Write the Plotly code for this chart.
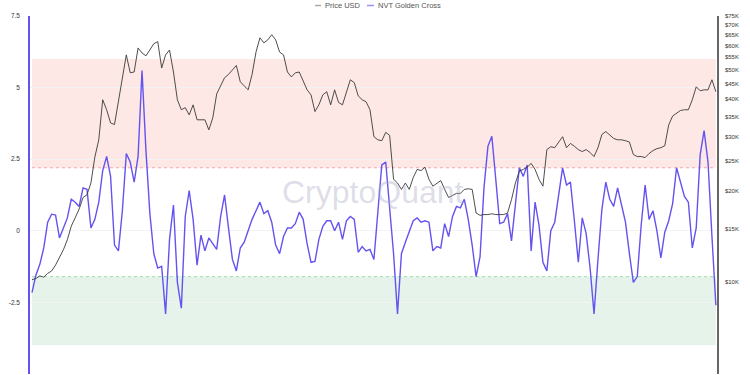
import pandas as pd
import plotly.graph_objects as go

# ---- data (weekly samples) ----
start_date = "2020-09-16"
n_weeks = 175

price_usd_k = [
    10.2, 10.3, 10.5, 10.4, 10.7, 10.9, 11.4, 12.1, 12.8, 13.8,
    15.3, 16.3, 17.4, 19.0, 19.4, 21.2, 25.8, 29.4, 39.8, 36.9,
    33.4, 33.0, 39.2, 46.3, 55.9, 48.8, 49.1, 58.9, 56.7, 55.5,
    58.0, 60.8, 61.8, 50.6, 55.9, 58.0, 49.1, 39.8, 36.9, 37.5,
    35.5, 38.3, 34.2, 34.2, 34.2, 31.7, 34.7, 41.6, 44.3, 47.0,
    48.2, 49.9, 51.6, 45.6, 44.3, 42.9, 48.2, 57.1, 63.6, 61.2,
    62.6, 65.1, 62.6, 57.1, 55.9, 49.1, 47.3, 48.8, 49.1, 45.6,
    42.9, 41.3, 36.4, 38.3, 41.3, 42.3, 38.3, 42.9, 39.0, 38.3,
    42.3, 46.3, 45.3, 41.0, 39.8, 39.2, 36.9, 30.1, 29.4, 29.2,
    31.1, 30.4, 21.8, 21.2, 20.2, 21.2, 20.2, 22.1, 23.5, 23.3,
    23.9, 21.8, 20.7, 21.2, 21.6, 20.2, 19.0, 19.3, 19.6, 19.6,
    20.2, 20.3, 20.2, 16.9, 16.6, 16.7, 16.7, 16.8, 16.7, 16.7,
    16.7, 16.9, 18.7, 21.2, 23.2, 23.5, 23.9, 24.6, 23.5, 21.8,
    20.7, 27.3, 27.9, 27.7, 29.0, 30.1, 27.7, 28.6, 28.0, 27.3,
    26.9, 27.3, 26.7, 25.9, 27.7, 30.6, 31.3, 30.4, 29.7, 29.4,
    29.4, 29.2, 28.9, 26.3, 25.9, 25.9, 25.7, 26.5, 27.1, 27.5,
    27.7, 28.1, 32.9, 35.2, 36.0, 36.7, 36.9, 36.9, 39.8, 43.9,
    42.6, 42.9, 42.9, 46.3, 42.3,
]

nvt_golden_cross = [
    -2.16, -1.55, -1.17, -0.6, 0.3, 0.58, 0.55, -0.25, 0.1, 0.45,
    1.1, 1.0, 0.85, 1.5, 1.45, 0.1, 0.4, 1.0, 2.1, 2.6,
    1.9, -0.5, -0.7, 0.7, 2.7, 2.4, 1.7, 2.6, 5.6, 2.8,
    0.6, -0.8, -1.3, -1.24, -2.9, -0.3, 0.9, -1.8, -2.7, 0.5,
    1.4, 0.4, -1.2, -0.15, -0.7, -0.25, -0.45, -0.65, 0.5, 1.25,
    0.1, -1.0, -1.4, -0.6, -0.4, 0.0, 0.4, 0.7, 1.0, 0.6,
    0.7, 0.3, -0.5, -0.8, -0.2, 0.1, 0.1, 0.25, 0.65, 0.4,
    -0.45, -1.1, -1.07, -0.3, 0.16, 0.35, 0.35, 0.0, 0.3, -0.3,
    0.35, 0.5, 0.4, -0.75, -0.55, -0.7, -0.65, -1.0, 0.7, 2.3,
    2.4, 0.9, -0.8, -2.9, -0.8, -0.4, 0.0, 0.35, 0.45, 0.3,
    0.35, 0.3, -0.7, -0.55, -0.6, 0.25, -0.2, 0.5, 0.85, 0.8,
    1.1, 0.4, -0.5, -1.6, -0.9, 1.5, 2.95, 3.3, 1.8, 0.25,
    0.3, 0.6, -0.35, 0.9, 2.2, 1.9, 2.3, -0.7, 1.0, 0.2,
    -1.1, -1.4, 0.0, 0.3, 1.25, 2.2, 1.6, 1.7, 0.35, -1.1,
    0.45, -0.1, -1.3, -2.9, -1.0, 0.75, 1.7, 1.1, 0.85, 1.5,
    0.9, 0.3, -0.8, -1.8, -1.6, 0.2, 1.6, 0.4, 0.7, 0.0,
    -0.95, -0.05, 0.35, 0.95, 2.2, 1.7, 1.2, 1.0, -0.6, 0.1,
    2.65, 3.5, 2.4, -0.2, -2.6,
]

# zones on the NVT axis
overbought_zone = (2.2, 6.0)
oversold_zone = (-4.0, -1.6)

left_ticks = [-5, -2.5, 0, 2.5, 5, 7.5]
left_tick_text = ["-5", "-2.5", "0", "2.5", "5", "7.5"]
right_ticks_k = [5, 10, 15, 20, 25, 30, 35, 40, 45, 50, 55, 60, 65, 70, 75]

# ---- build ----
dates = pd.date_range(start_date, periods=n_weeks, freq="7D")
price_usd = [v * 1000 for v in price_usd_k]

W, H = 750, 375
L, R, T, B = 30, 33, 16, 1
PW, PH = W - L - R, H - T - B

def px(p):
    return (p - L) / PW

def py(p):
    return (H - B - p) / PH

PURPLE = "#6453f0"
PRICE_C = "#3a3a3a"
FONT = "Liberation Sans, Arial, sans-serif"

fig = go.Figure()
fig.add_trace(go.Scatter(
    x=dates, y=price_usd, name="Price USD", yaxis="y2",
    mode="lines", line=dict(color=PRICE_C, width=0.9), showlegend=False,
))
fig.add_trace(go.Scatter(
    x=dates, y=nvt_golden_cross, name="NVT Golden Cross", yaxis="y",
    mode="lines", line=dict(color=PURPLE, width=1.4), showlegend=False,
))

LEG_Y = 5.5
shapes = [
    dict(type="rect", xref="x", yref="y", x0=dates[0], x1=dates[-1],
         y0=overbought_zone[0], y1=overbought_zone[1],
         fillcolor="#fde8e6", line=dict(width=0), layer="below"),
    dict(type="rect", xref="x", yref="y", x0=dates[0], x1=dates[-1],
         y0=oversold_zone[0], y1=oversold_zone[1],
         fillcolor="#e5f3ea", line=dict(width=0), layer="below"),
    dict(type="line", xref="x", yref="y", x0=dates[0], x1=dates[-1],
         y0=overbought_zone[0], y1=overbought_zone[0],
         line=dict(color="#f3a5a5", width=1, dash="dot"), layer="below"),
    dict(type="line", xref="x", yref="y", x0=dates[0], x1=dates[-1],
         y0=oversold_zone[1], y1=oversold_zone[1],
         line=dict(color="#a6dca6", width=1, dash="dot"), layer="below"),
    # manual legend samples
    dict(type="line", xref="paper", yref="paper", x0=px(315), x1=px(321),
         y0=py(LEG_Y), y1=py(LEG_Y), line=dict(color="#aaaaaa", width=1.5)),
    dict(type="line", xref="paper", yref="paper", x0=px(367), x1=px(374),
         y0=py(LEG_Y), y1=py(LEG_Y), line=dict(color="#9b90f5", width=1.5)),
]

annotations = [
    dict(text="CryptoQuant", xref="paper", yref="paper", x=px(373), y=py(192),
         showarrow=False, xanchor="center", yanchor="middle",
         font=dict(family=FONT, size=32, color="rgba(175,175,200,0.42)")),
    dict(text="Price USD", xref="paper", yref="paper", x=px(323), y=py(LEG_Y),
         showarrow=False, xanchor="left", yanchor="middle",
         font=dict(family=FONT, size=7.5, color="#555555")),
    dict(text="NVT Golden Cross", xref="paper", yref="paper", x=px(376), y=py(LEG_Y),
         showarrow=False, xanchor="left", yanchor="middle",
         font=dict(family=FONT, size=7.5, color="#555555")),
]

x_lo = dates[0] - pd.Timedelta(days=3.5)
x_hi = dates[-1] + pd.Timedelta(days=2)

fig.update_layout(
    width=W, height=H,
    margin=dict(l=L, r=R, t=T, b=B, autoexpand=False),
    paper_bgcolor="white", plot_bgcolor="white",
    font=dict(family=FONT, size=6.5, color="#333333"),
    shapes=shapes, annotations=annotations,
    xaxis=dict(range=[x_lo, x_hi], showticklabels=False, showgrid=False,
               zeroline=False, showline=False, ticks=""),
    yaxis=dict(range=[-5, 7.5], tickvals=left_ticks, ticktext=left_tick_text,
               showline=True, linecolor=PURPLE, linewidth=1.5,
               showgrid=True, gridcolor="#f3f3f3", gridwidth=1,
               zeroline=False, ticks="", ticklabelstandoff=7,
               tickfont=dict(size=6.5, color="#333333")),
    yaxis2=dict(type="log", overlaying="y", side="right",
                range=[3.69897, 4.875061],
                tickvals=[v * 1000 for v in right_ticks_k],
                ticktext=["$%dK" % v for v in right_ticks_k],
                showline=True, linecolor="#666666", linewidth=1.5,
                showgrid=False, zeroline=False, ticks="", ticklabelstandoff=5,
                tickfont=dict(size=6, color="#333333")),
    showlegend=False,
)

fig.write_html("out.html")
